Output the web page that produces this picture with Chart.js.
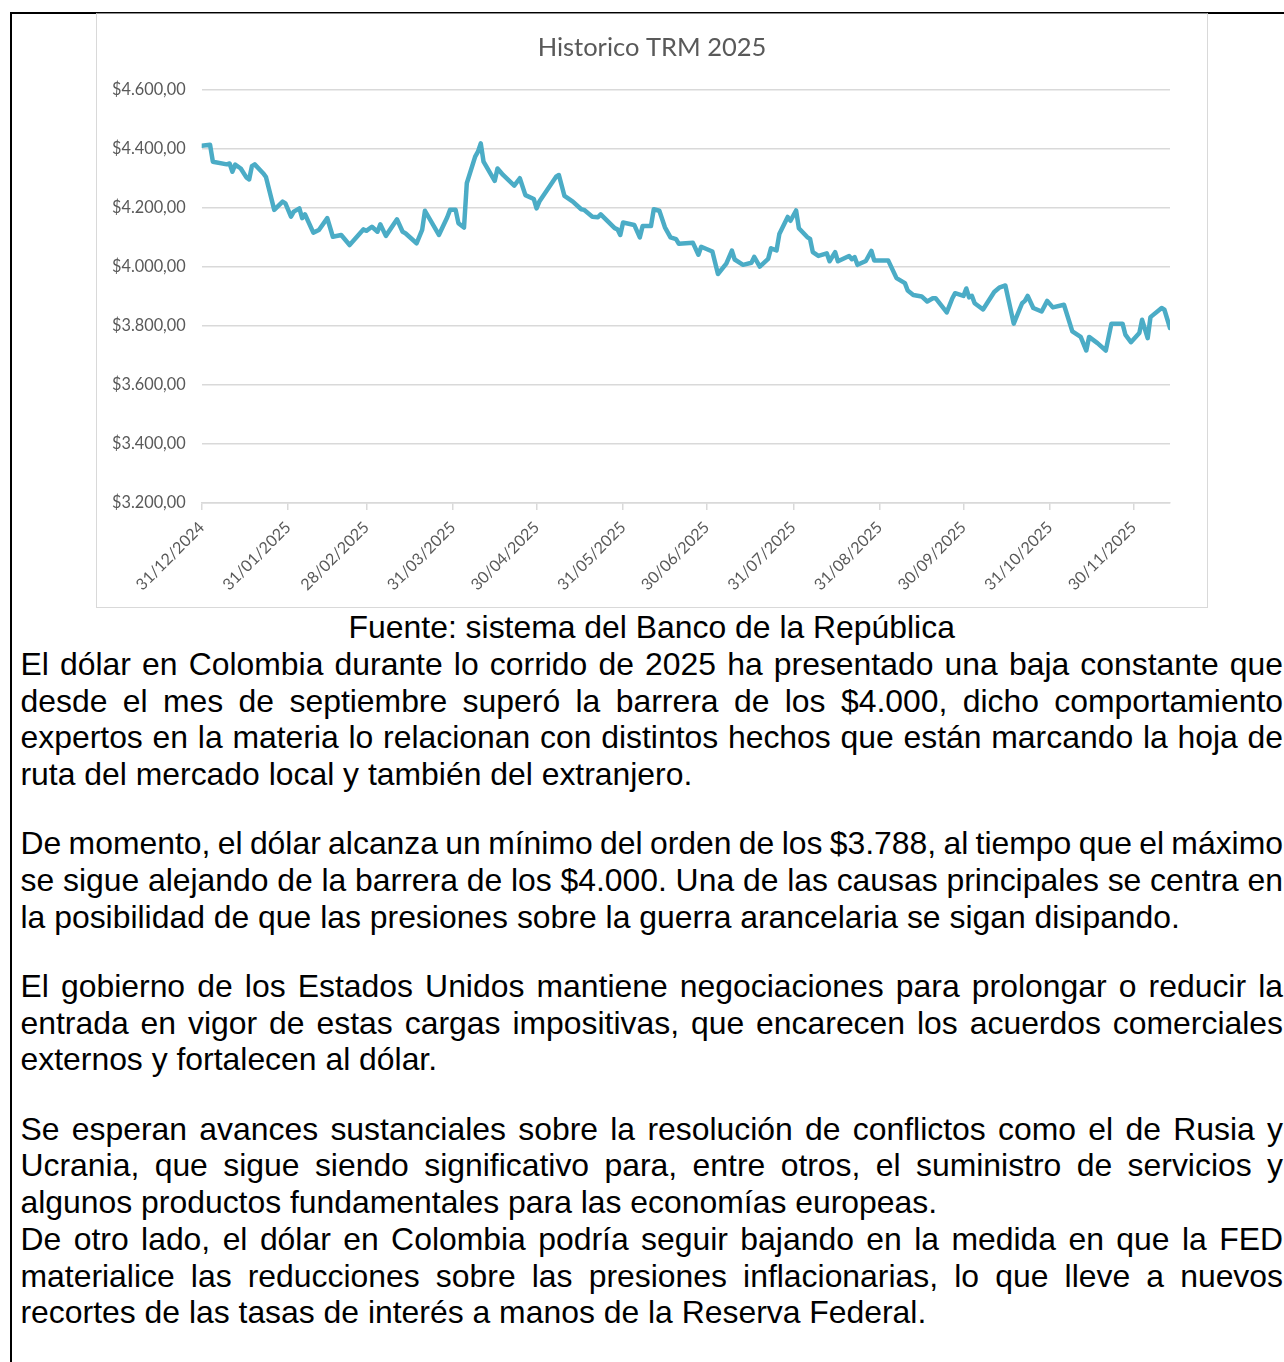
<!DOCTYPE html>
<html>
<head>
<meta charset="utf-8">
<script src="https://cdn.jsdelivr.net/npm/chart.js@4.4.1/dist/chart.umd.min.js"></script>
<style>
  html, body { margin: 0; padding: 0; background: #fff; }
  body { width: 1284px; height: 1362px; overflow: hidden; position: relative; }
  .marco { position: absolute; left: 9.5px; top: 12px; width: 1300px; height: 1400px;
           border-left: 2px solid #000; border-top: 2px solid #000; }
  .grafico { position: absolute; left: 96px; top: 13px; width: 1110px; height: 593px;
             border: 1px solid #d9d9d9; border-top-color: #8c8c8c; background: #fff; }
  .texto { position: absolute; left: 20.5px; top: 609.2px; width: 1262.5px;
           font-family: 'Liberation Sans', Arial, sans-serif; font-size: 31.9px; color: #000; }
  .texto div { height: 36.75px; line-height: 36.75px; white-space: nowrap; }
  .texto .j { text-align: justify; text-align-last: justify; word-spacing: -5px; }
  .texto .c { text-align: center; }
  .texto .sep { height: 32.4px; }
</style>
</head>
<body>
<div class="marco"></div>
<div class="grafico"><canvas id="trmChart" width="1110" height="593"></canvas></div>
<div class="texto">
  <div class="c">Fuente: sistema del Banco de la República</div>
  <div class="j">El dólar en Colombia durante lo corrido de 2025 ha presentado una baja constante que</div>
  <div class="j">desde el mes de septiembre superó la barrera de los $4.000, dicho comportamiento</div>
  <div class="j">expertos en la materia lo relacionan con distintos hechos que están marcando la hoja de</div>
  <div>ruta del mercado local y también del extranjero.</div>
  <div class="sep"></div>
  <div class="j">De momento, el dólar alcanza un mínimo del orden de los $3.788, al tiempo que el máximo</div>
  <div class="j">se sigue alejando de la barrera de los $4.000. Una de las causas principales se centra en</div>
  <div>la posibilidad de que las presiones sobre la guerra arancelaria se sigan disipando.</div>
  <div class="sep"></div>
  <div class="j">El gobierno de los Estados Unidos mantiene negociaciones para prolongar o reducir la</div>
  <div class="j">entrada en vigor de estas cargas impositivas, que encarecen los acuerdos comerciales</div>
  <div>externos y fortalecen al dólar.</div>
  <div class="sep"></div>
  <div class="j">Se esperan avances sustanciales sobre la resolución de conflictos como el de Rusia y</div>
  <div class="j">Ucrania, que sigue siendo significativo para, entre otros, el suministro de servicios y</div>
  <div>algunos productos fundamentales para las economías europeas.</div>
  <div class="j">De otro lado, el dólar en Colombia podría seguir bajando en la medida en que la FED</div>
  <div class="j">materialice las reducciones sobre las presiones inflacionarias, lo que lleve a nuevos</div>
  <div>recortes de las tasas de interés a manos de la Reserva Federal.</div>
</div>
<script>
// Días contados desde el 31/12/2024 y TRM
const dias = [
    0, 3, 4, 9, 10, 11, 12, 14, 16, 17, 18, 19, 22, 23, 26, 29, 30,
    32, 33, 35, 36, 37, 40, 42, 45, 47, 50, 53, 58,
    59, 61, 63, 64, 66, 70, 72, 73, 77, 79, 80, 85, 88, 89,
    91, 92, 94, 95, 98, 99, 100, 101, 105, 106, 108, 112, 114, 116, 119, 120,
    121, 127, 128, 130, 133, 136, 137, 140, 142, 143, 148, 149, 150, 151,
    155, 157, 158, 161, 162, 164, 166, 168, 170, 171, 176, 178, 179,
    183, 185, 188, 190, 191, 194, 197, 198, 200, 203, 204, 206, 207, 210, 211,
    213, 214, 217, 218, 219, 221, 224, 225, 227, 228, 232, 233, 234, 235, 238, 240, 241,
    246, 249, 252, 253, 255, 258, 260, 262, 263, 267, 269, 270, 273,
    274, 275, 276, 277, 280, 284, 286, 288, 291, 294, 295, 296, 298, 301, 303,
    305, 309, 312, 315, 317, 318, 321, 324, 326, 330, 331, 333,
    336, 337, 339, 340, 344, 345, 347
];
const trm = [
    4409, 4412, 4355, 4346, 4349, 4321, 4345, 4332, 4302, 4295, 4340, 4346, 4316, 4304, 4192, 4220, 4214,
    4169, 4186, 4197, 4164, 4177, 4115, 4124, 4164, 4101, 4107, 4073, 4126,
    4121, 4135, 4118, 4143, 4104, 4160, 4118, 4113, 4079, 4124, 4189, 4107, 4167, 4192,
    4192, 4147, 4132, 4282, 4372, 4389, 4417, 4355, 4290, 4332, 4310, 4274, 4299, 4242, 4229, 4197,
    4220, 4304, 4310, 4239, 4220, 4194, 4192, 4169, 4167, 4177, 4130, 4126, 4107, 4149,
    4141, 4099, 4137, 4137, 4194, 4189, 4133, 4099, 4093, 4077, 4081, 4040, 4067,
    4051, 3975, 4010, 4054, 4024, 4006, 4013, 4033, 4000, 4026, 4062, 4055, 4110, 4168, 4155,
    4190, 4130, 4100, 4094, 4049, 4036, 4045, 4018, 4049, 4018, 4036, 4025, 4032, 4006, 4019, 4053, 4021,
    4021, 3961, 3944, 3919, 3904, 3899, 3882, 3893, 3893, 3845, 3893, 3910, 3901,
    3926, 3896, 3901, 3876, 3855, 3914, 3930, 3936, 3807, 3876, 3884, 3901, 3860, 3848, 3884,
    3862, 3871, 3781, 3762, 3716, 3762, 3741, 3716, 3807, 3807, 3770, 3744,
    3775, 3820, 3758, 3829, 3860, 3854, 3792
];
const etiquetasX = ['31/12/2024', '31/01/2025', '28/02/2025', '31/03/2025', '30/04/2025', '31/05/2025',
                    '30/06/2025', '31/07/2025', '31/08/2025', '30/09/2025', '31/10/2025', '30/11/2025'];

const inicio = Date.UTC(2024, 11, 31);
const posX = etiquetasX.map(e => {
    const [d, m, a] = e.split('/').map(Number);
    return Math.round((Date.UTC(a, m - 1, d) - inicio) / 86400000);
});

function formatoPesos(v) {
    const miles = Math.floor(v / 1000);
    const resto = String(v % 1000).padStart(3, '0');
    return '$' + miles + '.' + resto + ',00';
}

const gris = '#595959';
const linea = '#d9d9d9';

new Chart(document.getElementById('trmChart'), {
    type: 'line',
    data: {
        datasets: [{
            data: dias.map((d, i) => ({ x: d, y: trm[i] })),
            borderColor: '#4bacc6',
            borderWidth: 4.5,
            pointRadius: 0,
            tension: 0,
            fill: false,
            borderJoinStyle: 'round',
            borderCapStyle: 'round'
        }]
    },
    options: {
        responsive: false,
        animation: false,
        layout: { padding: 0 },
        plugins: {
            legend: { display: false },
            tooltip: { enabled: false },
            title: {
                display: true,
                text: 'Historico TRM 2025',
                color: gris,
                font: { family: 'Lato', size: 25.5, weight: 'normal' },
                padding: { top: 18, bottom: 26.7 }
            }
        },
        scales: {
            x: {
                type: 'linear',
                min: 0,
                max: dias[dias.length - 1],
                afterBuildTicks: s => { s.ticks = posX.map(v => ({ value: v })); },
                afterFit: s => { s.height = 104; },
                ticks: {
                    autoSkip: false,
                    minRotation: 45,
                    maxRotation: 45,
                    padding: 8,
                    color: gris,
                    font: { family: 'Lato', size: 16 },
                    callback: (v, i) => etiquetasX[i]
                },
                grid: { drawOnChartArea: false, drawTicks: true, tickLength: 7, color: linea, lineWidth: 1.5 },
                border: { display: true, color: linea, width: 1.5 }
            },
            y: {
                min: 3200,
                max: 4600,
                afterFit: s => { s.width = 104.7; },
                ticks: {
                    stepSize: 200,
                    padding: 16,
                    color: gris,
                    font: { family: 'Lato', size: 16.3 },
                    callback: v => formatoPesos(v)
                },
                grid: { color: linea, lineWidth: 1.5, drawTicks: false },
                border: { display: false }
            },
            // margen derecho vacío, así el título queda centrado en todo el gráfico
            margen: {
                position: 'right',
                min: 3200,
                max: 4600,
                afterFit: s => { s.width = 37; },
                ticks: { display: false },
                grid: { display: false },
                border: { display: false }
            }
        }
    }
});
</script>
</body>
</html>
